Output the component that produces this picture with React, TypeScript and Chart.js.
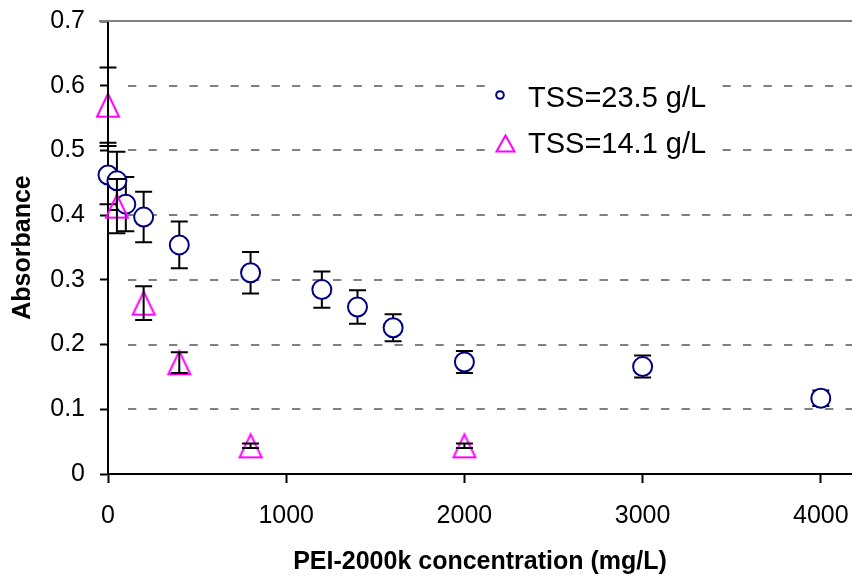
import React, { useEffect, useRef } from 'react';
import { Chart, registerables } from 'chart.js';

Chart.register(...registerables);

// TSS = 23.5 g/L (circles)
const concCircle = [0, 50, 100, 200, 400, 800, 1200, 1400, 1600, 2000, 3000, 4000];
const absCircle = [0.462, 0.453, 0.417, 0.397, 0.354, 0.311, 0.285, 0.258, 0.226, 0.173, 0.166, 0.117];
const errCircle = [0.045, 0.045, 0.042, 0.039, 0.036, 0.032, 0.028, 0.026, 0.021, 0.017, 0.017, 0.012];

// TSS = 14.1 g/L (triangles)
const concTriangle = [0, 50, 200, 400, 800, 2000];
const absTriangle = [0.57, 0.414, 0.264, 0.172, 0.0435, 0.0435];
const errTriangle = [0.058, 0.042, 0.026, 0.016, 0.0035, 0.0035];

const seriesLabels = ['TSS=23.5 g/L', 'TSS=14.1 g/L'];
const xTicks = [0, 1000, 2000, 3000, 4000];
const yTicks = [0, 0.1, 0.2, 0.3, 0.4, 0.5, 0.6, 0.7];
const xTitle = 'PEI-2000k concentration (mg/L)';
const yTitle = 'Absorbance';

const FONT = '"Liberation Sans", Arial, Helvetica, sans-serif';
const NAVY = '#000080';
const MAGENTA = '#FF00FF';

function makeTriangle(w: number, h: number, lw: number, color: string) {
  const c = document.createElement('canvas');
  const pad = lw;
  c.width = Math.ceil(w + pad * 2);
  c.height = Math.ceil(h + pad * 2);
  const g = c.getContext('2d')!;
  g.strokeStyle = color;
  g.lineWidth = lw;
  g.lineJoin = 'miter';
  g.beginPath();
  g.moveTo(c.width / 2, pad);
  g.lineTo(c.width / 2 + w / 2, pad + h);
  g.lineTo(c.width / 2 - w / 2, pad + h);
  g.closePath();
  g.stroke();
  return c;
}

function drawErrorBars(chart: any, index: number) {
  const ds = chart.data.datasets[index];
  const errs: number[] | undefined = ds.errorBars;
  if (!errs) return;
  const xs = chart.scales.x;
  const ys = chart.scales.y;
  const ctx = chart.ctx;
  const cap = 8.5;
  ctx.save();
  ctx.strokeStyle = '#000000';
  ctx.lineWidth = 2;
  ds.data.forEach((p: any, j: number) => {
    const px = xs.getPixelForValue(p.x);
    const top = ys.getPixelForValue(p.y + errs[j]);
    const bot = ys.getPixelForValue(p.y - errs[j]);
    ctx.beginPath();
    ctx.moveTo(px, top);
    ctx.lineTo(px, bot);
    ctx.moveTo(px - cap, top);
    ctx.lineTo(px + cap, top);
    ctx.moveTo(px - cap, bot);
    ctx.lineTo(px + cap, bot);
    ctx.stroke();
  });
  ctx.restore();
}

const errorBarPlugin = {
  id: 'errorBars',
  beforeDatasetDraw(chart: any, args: any) {
    if (!chart.data.datasets[args.index].errorOnTop) drawErrorBars(chart, args.index);
  },
  afterDatasetDraw(chart: any, args: any) {
    if (chart.data.datasets[args.index].errorOnTop) drawErrorBars(chart, args.index);
  },
};

const backdropPlugin = {
  id: 'backdrop',
  beforeDatasetsDraw(chart: any) {
    const { ctx, chartArea: a, scales } = chart;
    const y = scales.y;
    ctx.save();
    // dashed horizontal gridlines
    ctx.strokeStyle = '#808080';
    ctx.lineWidth = 2;
    ctx.setLineDash([8.3, 12.2]);
    y.ticks.forEach((t: any) => {
      if (t.value <= 1e-9 || t.value >= y.max - 1e-9) return;
      const py = Math.round(y.getPixelForValue(t.value));
      ctx.beginPath();
      ctx.moveTo(a.left + 20, py);
      ctx.lineTo(a.right, py);
      ctx.stroke();
    });
    // solid plot-area top border
    ctx.setLineDash([]);
    ctx.beginPath();
    ctx.moveTo(a.left - 9, a.top);
    ctx.lineTo(a.right, a.top);
    ctx.stroke();

    // inset legend
    ctx.fillStyle = '#ffffff';
    ctx.fillRect(487, 70, 235, 95);
    const ds = chart.data.datasets;
    ctx.font = `29px ${FONT}`;
    ctx.fillStyle = '#000000';
    ctx.textBaseline = 'alphabetic';
    ctx.textAlign = 'left';
    ctx.fillText(ds[0].label, 528, 106.5);
    ctx.fillText(ds[1].label, 528, 153);
    ctx.lineWidth = 2;
    ctx.strokeStyle = ds[0].pointBorderColor;
    ctx.beginPath();
    ctx.arc(500, 95, 3.8, 0, Math.PI * 2);
    ctx.stroke();
    ctx.strokeStyle = ds[1].legendColor;
    ctx.beginPath();
    ctx.moveTo(505.5, 135.5);
    ctx.lineTo(514.5, 151.5);
    ctx.lineTo(496.5, 151.5);
    ctx.closePath();
    ctx.stroke();
    ctx.restore();
  },
};

export default function App() {
  const ref = useRef<HTMLCanvasElement | null>(null);

  useEffect(() => {
    if (!ref.current) return;
    const tri = makeTriangle(22, 23, 2, MAGENTA);
    const chart = new Chart(ref.current, {
      type: 'scatter',
      data: {
        datasets: [
          {
            label: seriesLabels[0],
            data: concCircle.map((x, i) => ({ x, y: absCircle[i] })),
            errorBars: errCircle,
            pointStyle: 'circle',
            pointRadius: 9.5,
            pointBorderWidth: 2,
            pointBorderColor: NAVY,
            pointBackgroundColor: '#ffffff',
            clip: false,
            order: 1,
          } as any,
          {
            label: seriesLabels[1],
            data: concTriangle.map((x, i) => ({ x, y: absTriangle[i] })),
            errorBars: errTriangle,
            errorOnTop: true,
            legendColor: MAGENTA,
            pointStyle: tri,
            pointRadius: 12,
            pointBorderColor: MAGENTA,
            clip: false,
            order: 0,
          } as any,
        ],
      },
      options: {
        animation: false,
        responsive: false,
        events: [],
        layout: { autoPadding: false, padding: { top: 21, left: 0, right: 0, bottom: 0 } },
        plugins: {
          legend: { display: false },
          tooltip: { enabled: false },
        },
        scales: {
          x: {
            type: 'linear',
            min: 0,
            max: 4175,
            afterBuildTicks: (scale: any) => {
              scale.ticks = xTicks.map((v) => ({ value: v }));
            },
            afterFit: (scale: any) => {
              scale.height = 107;
              scale.paddingLeft = 0;
              scale.paddingRight = 0;
            },
            ticks: {
              autoSkip: false,
              maxRotation: 0,
              padding: 18,
              color: '#000000',
              font: { family: FONT, size: 25 },
              callback: (v: any) => String(v),
            },
            grid: {
              drawOnChartArea: false,
              drawTicks: true,
              tickLength: 9,
              tickColor: '#000000',
              tickWidth: 2,
            },
            border: { color: '#000000', width: 2 },
            title: {
              display: true,
              text: xTitle,
              color: '#000000',
              font: { family: FONT, size: 25, weight: 'bold' },
              padding: { top: 0, bottom: 4 },
            },
          },
          y: {
            type: 'linear',
            min: 0,
            max: 0.7,
            afterBuildTicks: (scale: any) => {
              scale.ticks = yTicks.map((v) => ({ value: v }));
            },
            afterFit: (scale: any) => {
              scale.width = 108;
              scale.paddingTop = 0;
              scale.paddingBottom = 0;
            },
            ticks: {
              autoSkip: false,
              padding: 15,
              color: '#000000',
              font: { family: FONT, size: 25 },
              callback: (v: any) => String(Math.round(Number(v) * 10) / 10),
            },
            grid: {
              drawOnChartArea: false,
              drawTicks: true,
              tickLength: 8,
              tickColor: '#000000',
              tickWidth: 2,
            },
            border: { color: '#000000', width: 2 },
            title: {
              display: true,
              text: yTitle,
              color: '#000000',
              font: { family: FONT, size: 25, weight: 'bold' },
              padding: { top: 8, bottom: 0 },
            },
          },
        },
      } as any,
      plugins: [backdropPlugin, errorBarPlugin],
    });
    return () => chart.destroy();
  }, []);

  return (
    <div style={{ position: 'fixed', left: 0, top: 0, width: 852, height: 581, background: '#ffffff' }}>
      <canvas ref={ref} width={852} height={581} style={{ display: 'block', width: 852, height: 581 }} />
    </div>
  );
}
